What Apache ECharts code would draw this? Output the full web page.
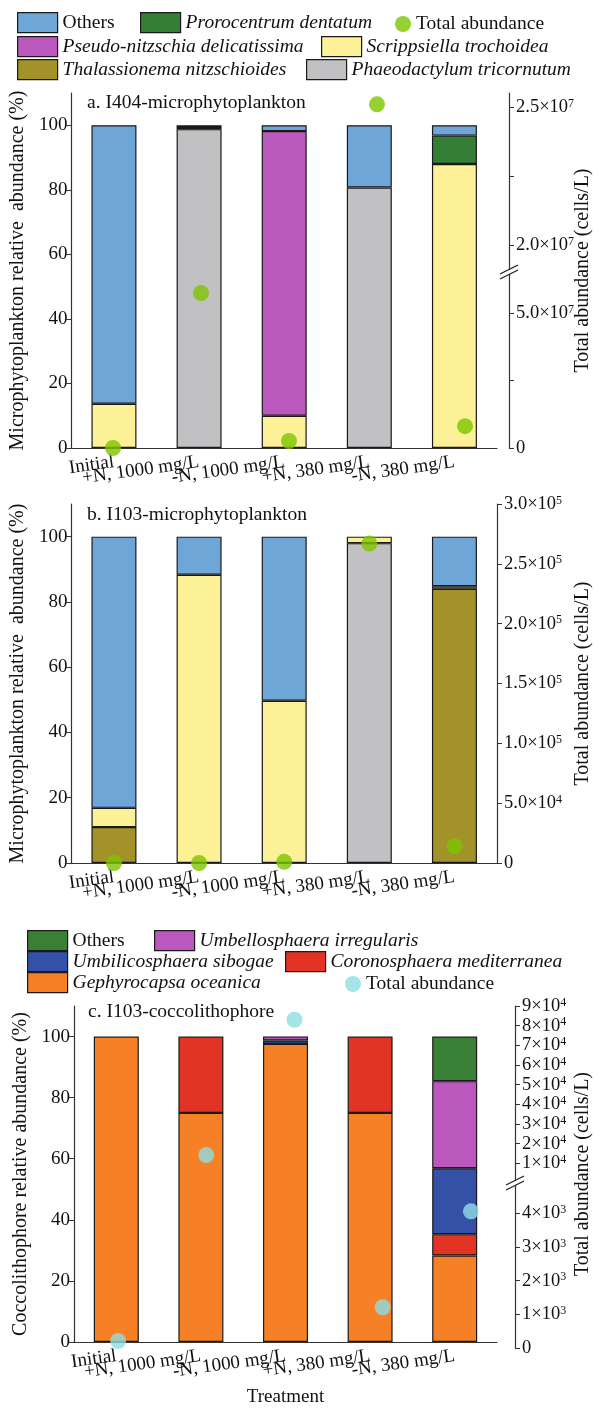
<!DOCTYPE html>
<html><head><meta charset="utf-8">
<script src="https://cdn.jsdelivr.net/npm/echarts@6/dist/echarts.min.js"></script>
<style>html,body{margin:0;padding:0;background:#fff}#c{width:601px;height:1408px}</style>
</head><body><div id="c"></div>
<script>
// ---------- DATA ----------
const treatments = ['Initial', '+N, 1000 mg/L', '-N, 1000 mg/L', '+N, 380 mg/L', '-N, 380 mg/L'];
const pctTicks = [0, 20, 40, 60, 80, 100];

// Panel a: I404 microphytoplankton (% relative abundance)
const a_thalassionema = [0, 0, 0, 0, 0];
const a_phaeodactylum = [0, 98.8, 0, 80.7, 0];
const a_scrippsiella  = [13.7, 0.7, 10, 0, 88];
const a_pseudo        = [0, 0, 88.2, 0, 0];
const a_prorocentrum  = [0, 0, 0, 0, 8.8];
const a_others        = [86.3, 0.5, 1.8, 19.3, 3.2];
// Total abundance (cells/L): lower and upper section of the broken axis
const a_total_lower = [0, 5.74e7, 2.6e6, null, 8.1e6];
const a_total_upper = [null, null, null, 2.51e7, null];
const a_lowerTicks = [0, 2.5e7, 5e7];
const a_lowerLabels = [0, 5e7];
const a_upperTicks = [2.0e7, 2.25e7, 2.5e7];
const a_upperLabels = [2.0e7, 2.5e7];

// Panel b: I103 microphytoplankton
const b_thalassionema = [11, 0, 0, 0, 84];
const b_phaeodactylum = [0, 0, 0, 98, 0];
const b_scrippsiella  = [5.9, 88.3, 49.7, 2, 0.8];
const b_others        = [83.1, 11.7, 50.3, 0, 15.2];
const b_total = [0, 0, 1e3, 2.67e5, 1.4e4];

// Panel c: I103 coccolithophore
const c_gephyrocapsa    = [100, 75, 97.6, 75, 28.3];
const c_coronosphaera   = [0, 25, 0, 25, 7];
const c_umbilicosphaera = [0, 0, 1.1, 0, 21.6];
const c_umbellosphaera  = [0, 0, 1.3, 0, 28.5];
const c_others          = [0, 0, 0, 0, 14.6];
const c_total_lower = [207, null, null, 1.21e3, 4.06e3];
const c_total_upper = [null, 1.42e4, 8.3e4, null, null];
const c_lowerTicks = [0, 1e3, 2e3, 3e3, 4e3];
const c_upperTicks = [1e4, 2e4, 3e4, 4e4, 5e4, 6e4, 7e4, 8e4, 9e4];

// ---------- STYLE ----------
const FF = 'Liberation Serif';
const TXT = '#111';
const AX = '#333';
const COL = {
  others: '#6fa6d8', proro: '#357e36', pseudo: '#bb58bd', scripp: '#fcf197',
  thal: '#a3922a', phaeo: '#c1c0c2', totalAB: '#7cc400',
  cOthers: '#3a7f36', umbel: '#bb58bd', umbil: '#3550a7', corono: '#e13424',
  geph: '#f58026', totalC: '#8fdde4'
};

const chart = echarts.init(document.getElementById('c'), null, {renderer: 'canvas'});
const clean = arr => arr.map(v => (v === 0 || v === null) ? '-' : v);
const cleanPts = arr => arr.map(v => v === null ? '-' : v);

function sci(v, dec) {
  if (v === 0) return '{m|0}';
  const e = Math.floor(Math.log10(v) + 1e-9);
  const m = v / Math.pow(10, e);
  return '{m|' + m.toFixed(dec) + '×10}{s|' + e + '}';
}
const rich = {m: {fontSize: 18.5, fontFamily: FF, color: TXT}, s: {fontSize: 12, fontFamily: FF, color: TXT, verticalAlign: 'top', padding: [0, 0, 6, 0]}};

function grid(left, top, width, height) { return {left, top, width, height, containLabel: false}; }
function xMain(gi, withName) {
  const o = {
    type: 'category', gridIndex: gi, data: treatments,
    axisLine: {show: true, lineStyle: {color: AX, width: 1.2}},
    axisTick: {show: false},
    axisLabel: {interval: 0, rotate: 8, margin: 14, fontFamily: FF, fontSize: 19, color: TXT},
    splitLine: {show: false}
  };
  if (withName) {
    o.name = 'Treatment'; o.nameLocation = 'middle'; o.nameGap = 46;
    o.nameTextStyle = {fontFamily: FF, fontSize: 19, color: TXT};
  }
  return o;
}
function xAux(gi) { return {type: 'category', gridIndex: gi, data: treatments, show: false}; }
function yPct(gi, name) {
  return {
    type: 'value', gridIndex: gi, position: 'left', min: 0, max: 110,
    name, nameLocation: 'middle', nameGap: 42, nameRotate: 90,
    nameTextStyle: {fontFamily: FF, fontSize: 20, color: TXT},
    axisLine: {show: true, lineStyle: {color: AX, width: 1.2}},
    axisTick: {show: true, inside: false, length: 5, lineStyle: {color: AX}, customValues: pctTicks},
    axisLabel: {fontFamily: FF, fontSize: 19, color: TXT, margin: 4, customValues: pctTicks},
    splitLine: {show: false}
  };
}
function yNameOnly(gi) {
  return {
    type: 'value', gridIndex: gi, position: 'right', min: 0, max: 1,
    name: 'Total abundance (cells/L)', nameLocation: 'middle', nameGap: 76, nameRotate: 90,
    nameTextStyle: {fontFamily: FF, fontSize: 20, color: TXT},
    axisLine: {show: false}, axisTick: {show: false}, axisLabel: {show: false}, splitLine: {show: false}
  };
}
function yRight(gi, min, max, ticks, labels, dec, extra) {
  return Object.assign({
    type: 'value', gridIndex: gi, position: 'right', min, max,
    axisLine: {show: true, lineStyle: {color: AX, width: 1.2}},
    axisTick: {show: true, inside: false, length: 5, lineStyle: {color: AX}, customValues: ticks},
    axisLabel: {margin: 7, customValues: labels, formatter: v => sci(v, dec), rich},
    splitLine: {show: false}
  }, extra || {});
}

function bar(name, data, color, xi, yi, stack) {
  return {
    type: 'bar', name, data: clean(data), xAxisIndex: xi, yAxisIndex: yi, stack,
    barWidth: 45, itemStyle: {color, borderColor: '#1a1a1a', borderWidth: 1.2}, z: 2
  };
}
function pts(name, data, color, xi, yi) {
  return {
    type: 'scatter', name, data: cleanPts(data), xAxisIndex: xi, yAxisIndex: yi,
    symbol: 'circle', symbolSize: 16, itemStyle: {color, borderWidth: 0}, z: 5, clip: false
  };
}

function lg(name, left, top, italic, circle) {
  return {
    left, top, padding: 0, itemGap: 0, selectedMode: false,
    itemWidth: circle ? 16 : 40, itemHeight: circle ? 16 : 20,
    formatter: n => n.split(' [')[0],
    textStyle: {fontFamily: FF, fontSize: 19.5, color: TXT, fontStyle: italic ? 'italic' : 'normal', padding: [0, 0, 0, 0]},
    itemStyle: circle ? {borderWidth: 0} : {borderColor: '#1a1a1a', borderWidth: 1.2},
    data: [{name, icon: circle ? 'circle' : 'rect'}]
  };
}

function brk(x, y) {
  return [
    {type: 'polygon', shape: {points: [[x - 9, y + 2], [x + 9, y - 7], [x + 9, y - 2], [x - 9, y + 7]]}, style: {fill: '#fff'}, z: 100},
    {type: 'line', shape: {x1: x - 9, y1: y + 2, x2: x + 9, y2: y - 7}, style: {stroke: '#222', lineWidth: 1.3}, z: 101},
    {type: 'line', shape: {x1: x - 9, y1: y + 7, x2: x + 9, y2: y - 2}, style: {stroke: '#222', lineWidth: 1.3}, z: 101}
  ];
}

const titleStyle = {fontFamily: FF, fontSize: 19.5, fontWeight: 'normal', color: TXT};

const option = {
  animation: false,
  backgroundColor: '#fff',
  title: [
    {text: 'a. I404-microphytoplankton', left: 87, top: 93, padding: 0, textStyle: titleStyle},
    {text: 'b. I103-microphytoplankton', left: 87, top: 505, padding: 0, textStyle: titleStyle},
    {text: 'c. I103-coccolithophore', left: 88, top: 1002, padding: 0, textStyle: titleStyle}
  ],
  legend: [
    lg('Others', 17, 12, false),
    lg('Prorocentrum dentatum', 140, 12, true),
    lg('Total abundance', 395, 14, false, true),
    lg('Pseudo-nitzschia delicatissima', 17, 36, true),
    lg('Scrippsiella trochoidea', 321, 36, true),
    lg('Thalassionema nitzschioides', 17, 59, true),
    lg('Phaeodactylum tricornutum', 306, 59, true),
    lg('Others [c]', 27, 930, false),
    lg('Umbellosphaera irregularis', 154, 930, true),
    lg('Umbilicosphaera sibogae', 27, 951, true),
    lg('Coronosphaera mediterranea', 285, 951, true),
    lg('Gephyrocapsa oceanica', 27, 972, true),
    lg('Total abundance [c]', 345, 974, false, true)
  ],
  grid: [
    grid(69, 93, 440, 355),   // 0 a main
    grid(69, 272, 440, 176),  // 1 a lower
    grid(69, 93, 440, 179),   // 2 a upper
    grid(69, 504, 440, 359),  // 3 b main
    grid(74, 1006, 441, 342), // 4 c main
    grid(74, 1183, 441, 165), // 5 c lower
    grid(74, 1006, 441, 177)  // 6 c upper
  ],
  xAxis: [xMain(0), xAux(1), xAux(2), xMain(3), xMain(4, true), xAux(5), xAux(6)],
  yAxis: [
    yPct(0, 'Microphytoplankton relative  abundance (%)'),  // 0
    yNameOnly(0),                                          // 1
    yRight(1, 0, 6.52e7, a_lowerTicks, a_lowerLabels, 1),  // 2
    yRight(2, 1.902e7, 2.551e7, a_upperTicks, a_upperLabels, 1), // 3
    yPct(3, 'Microphytoplankton relative  abundance (%)'),  // 4
    yRight(3, 0, 3e5, null, null, 1, {
      interval: 5e4,
      axisTick: {show: true, length: 5, lineStyle: {color: AX}},
      axisLabel: {margin: 7, formatter: v => sci(v, 1), rich},
      name: 'Total abundance (cells/L)', nameLocation: 'middle', nameGap: 76, nameRotate: 90,
      nameTextStyle: {fontFamily: FF, fontSize: 20, color: TXT}
    }),                                                    // 5
    yPct(4, 'Coccolithophore relative abundance (%)'),      // 6
    yNameOnly(4),                                          // 7
    yRight(5, 0, 4900, c_lowerTicks, c_lowerTicks, 0),     // 8
    yRight(6, 0, 9e4, c_upperTicks, c_upperTicks, 0)       // 9
  ],
  graphic: [].concat(brk(509, 272), brk(515, 1183)),
  series: [
    bar('Thalassionema nitzschioides', a_thalassionema, COL.thal, 0, 0, 'a'),
    bar('Phaeodactylum tricornutum', a_phaeodactylum, COL.phaeo, 0, 0, 'a'),
    bar('Scrippsiella trochoidea', a_scrippsiella, COL.scripp, 0, 0, 'a'),
    bar('Pseudo-nitzschia delicatissima', a_pseudo, COL.pseudo, 0, 0, 'a'),
    bar('Prorocentrum dentatum', a_prorocentrum, COL.proro, 0, 0, 'a'),
    bar('Others', a_others, COL.others, 0, 0, 'a'),
    pts('Total abundance', a_total_lower, COL.totalAB, 1, 2),
    pts('Total abundance', a_total_upper, COL.totalAB, 2, 3),

    bar('Thalassionema nitzschioides', b_thalassionema, COL.thal, 3, 4, 'b'),
    bar('Phaeodactylum tricornutum', b_phaeodactylum, COL.phaeo, 3, 4, 'b'),
    bar('Scrippsiella trochoidea', b_scrippsiella, COL.scripp, 3, 4, 'b'),
    bar('Others', b_others, COL.others, 3, 4, 'b'),
    pts('Total abundance', b_total, COL.totalAB, 3, 5),

    bar('Gephyrocapsa oceanica', c_gephyrocapsa, COL.geph, 4, 6, 'c'),
    bar('Coronosphaera mediterranea', c_coronosphaera, COL.corono, 4, 6, 'c'),
    bar('Umbilicosphaera sibogae', c_umbilicosphaera, COL.umbil, 4, 6, 'c'),
    bar('Umbellosphaera irregularis', c_umbellosphaera, COL.umbel, 4, 6, 'c'),
    bar('Others [c]', c_others, COL.cOthers, 4, 6, 'c'),
    pts('Total abundance [c]', c_total_lower, COL.totalC, 5, 8),
    pts('Total abundance [c]', c_total_upper, COL.totalC, 6, 9)
  ]
};
chart.setOption(option);
</script>
</body></html>
